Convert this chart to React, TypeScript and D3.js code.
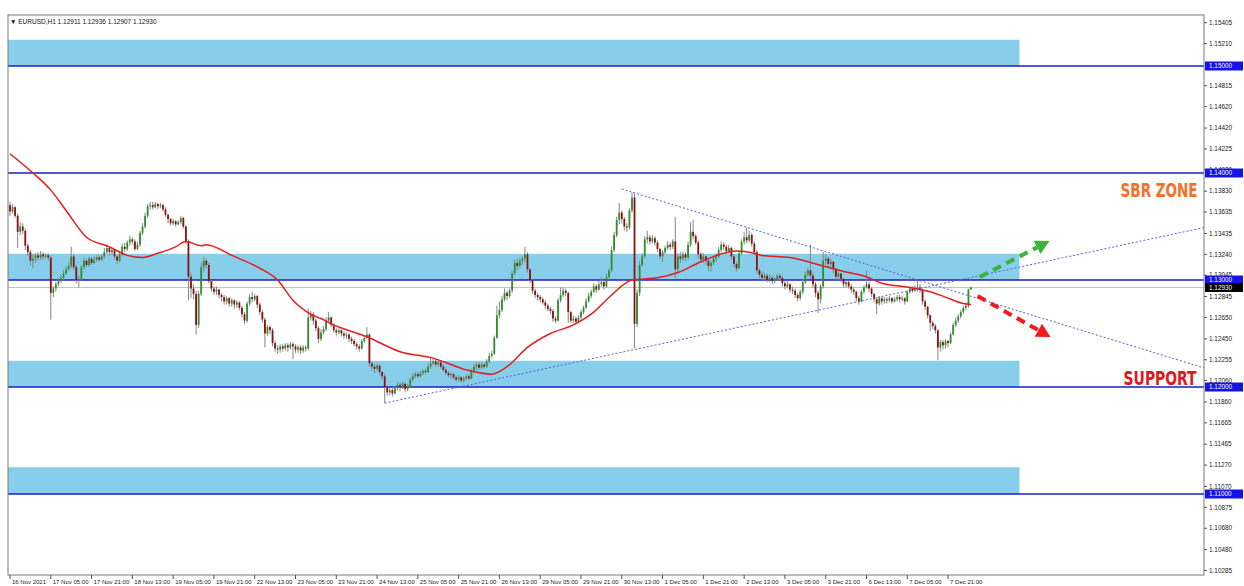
import React from "react";
import * as d3 from "d3";

// EURUSD H1, bars from 16 Nov 13:00 to 8 Dec 06:00 (open of a bar = close of previous bar)
const symbolTitle = "EURUSD,H1";
const lastQuote = [1.12911, 1.12936, 1.12907, 1.1293];
const firstOpen = 1.137;

const closes = [
  1.1364, 1.1368, 1.1360, 1.1345, 1.1350, 1.1346, 1.1332, 1.1326, 1.1318, 1.1320,
  1.1323, 1.1321, 1.1324, 1.1322, 1.1323, 1.1321, 1.1288, 1.1292, 1.1296, 1.1299,
  1.1302, 1.1306, 1.1310, 1.1313, 1.1322, 1.1312, 1.1300, 1.1301, 1.1312, 1.1318,
  1.1314, 1.1320, 1.1316, 1.1319, 1.1321, 1.1319, 1.1322, 1.1326, 1.1330, 1.1326,
  1.1328, 1.1322, 1.1318, 1.1324, 1.1331, 1.1329, 1.1335, 1.1338, 1.1336, 1.1329,
  1.1333, 1.1344, 1.1350, 1.1360, 1.1369, 1.1370, 1.1368, 1.1371, 1.1369, 1.1370,
  1.1366, 1.1361, 1.1357, 1.1353, 1.1355, 1.1352, 1.1354, 1.1358, 1.1350, 1.1336,
  1.1303, 1.1292, 1.1287, 1.1258, 1.1287, 1.1312, 1.1318, 1.1314, 1.1299, 1.1292,
  1.1289, 1.1291, 1.1286, 1.1284, 1.1280, 1.1283, 1.1278, 1.1281, 1.1277, 1.1279,
  1.1274, 1.1268, 1.1262, 1.1278, 1.1284, 1.1282, 1.1285, 1.1277, 1.1270, 1.1263,
  1.1250, 1.1256, 1.1253, 1.1241, 1.1236, 1.1235, 1.1238, 1.1236, 1.1239, 1.1237,
  1.1240, 1.1238, 1.1235, 1.1237, 1.1234, 1.1237, 1.1236, 1.1265, 1.1268, 1.1262,
  1.1255, 1.1245, 1.1251, 1.1254, 1.1262, 1.1265, 1.1258, 1.1253, 1.1251, 1.1253,
  1.1250, 1.1248, 1.1249, 1.1245, 1.1243, 1.1240, 1.1238, 1.1236, 1.1243, 1.1246,
  1.1249, 1.1222, 1.1219, 1.1217, 1.1220, 1.1214, 1.1210, 1.1200, 1.1195, 1.1197,
  1.1194, 1.1199, 1.1202, 1.1200, 1.1203, 1.1198, 1.1200, 1.1207, 1.1210, 1.1212,
  1.1210, 1.1213, 1.1215, 1.1214, 1.1219, 1.1222, 1.1224, 1.1221, 1.1223, 1.1219,
  1.1216, 1.1213, 1.1211, 1.1212, 1.1209, 1.1207, 1.1209, 1.1206, 1.1208, 1.1210,
  1.1208, 1.1215, 1.1219, 1.1221, 1.1218, 1.1221, 1.1219, 1.1224, 1.1229, 1.1231,
  1.1246, 1.1267, 1.1272, 1.1282, 1.1288, 1.1285, 1.1290, 1.1306, 1.1316, 1.1313,
  1.1318, 1.1320, 1.1324, 1.1310, 1.1300, 1.1290, 1.1286, 1.1284, 1.1282, 1.1279,
  1.1276, 1.1273, 1.1271, 1.1264, 1.1262, 1.1281, 1.1286, 1.1290, 1.1288, 1.1270,
  1.1262, 1.1264, 1.1261, 1.1265, 1.1270, 1.1274, 1.1280, 1.1285, 1.1289, 1.1294,
  1.1291, 1.1296, 1.1298, 1.1294, 1.1303, 1.1309, 1.1328, 1.1342, 1.1356, 1.1363,
  1.1357, 1.1350, 1.1349, 1.1365, 1.1377, 1.1259, 1.1288, 1.1314, 1.1322, 1.1338,
  1.1340, 1.1336, 1.1339, 1.1335, 1.1329, 1.1322, 1.1326, 1.1330, 1.1333, 1.1331,
  1.1336, 1.1310, 1.1322, 1.1320, 1.1324, 1.1321, 1.1333, 1.1345, 1.1341, 1.1335,
  1.1324, 1.1319, 1.1322, 1.1318, 1.1313, 1.1316, 1.1320, 1.1322, 1.1328, 1.1333,
  1.1331, 1.1327, 1.1330, 1.1322, 1.1315, 1.1311, 1.1325, 1.1336, 1.1340, 1.1337,
  1.1342, 1.1334, 1.1326, 1.1309, 1.1305, 1.1302, 1.1304, 1.1300, 1.1302, 1.1299,
  1.1301, 1.1304, 1.1302, 1.1297, 1.1294, 1.1296, 1.1291, 1.1290, 1.1286, 1.1283,
  1.1289, 1.1298, 1.1305, 1.1309, 1.1304, 1.1296, 1.1288, 1.1282, 1.1294, 1.1318,
  1.1320, 1.1315, 1.1317, 1.1310, 1.1303, 1.1306, 1.1301, 1.1296, 1.1298, 1.1294,
  1.1291, 1.1289, 1.1283, 1.1280, 1.1289, 1.1293, 1.1296, 1.1292, 1.1287, 1.1282,
  1.1278, 1.1283, 1.1280, 1.1282, 1.1281, 1.1283, 1.1280, 1.1282, 1.1284, 1.1282,
  1.1283, 1.1280, 1.1289, 1.1292, 1.1290, 1.1292, 1.1293, 1.1291, 1.1280, 1.1275,
  1.1267, 1.1260, 1.1257, 1.1253, 1.1237, 1.1242, 1.1239, 1.1243, 1.1241, 1.1249,
  1.1258, 1.1262, 1.1266, 1.1270, 1.1274, 1.1276, 1.12911, 1.1293,
];

const highs = [
  1.1373, 1.1371, 1.1369, 1.1362, 1.1354, 1.1353, 1.1348, 1.1334, 1.1328, 1.1324,
  1.1325, 1.1326, 1.1327, 1.1326, 1.1325, 1.1325, 1.1323, 1.1294, 1.1298, 1.1302,
  1.1305, 1.1309, 1.1313, 1.1317, 1.1331, 1.1324, 1.1314, 1.1304, 1.1314, 1.1321,
  1.1320, 1.1322, 1.1321, 1.1322, 1.1323, 1.1323, 1.1324, 1.1330, 1.1333, 1.1331,
  1.1330, 1.1329, 1.1323, 1.1326, 1.1334, 1.1335, 1.1337, 1.1341, 1.1340, 1.1338,
  1.1336, 1.1346, 1.1353, 1.1363, 1.1371, 1.1373, 1.1373, 1.1373, 1.1372, 1.1372,
  1.1371, 1.1368, 1.1362, 1.1358, 1.1357, 1.1356, 1.1356, 1.1360, 1.1359, 1.1351,
  1.1338, 1.1306, 1.1296, 1.1290, 1.1290, 1.1316, 1.1322, 1.1320, 1.1316, 1.1300,
  1.1294, 1.1294, 1.1292, 1.1288, 1.1286, 1.1285, 1.1284, 1.1283, 1.1282, 1.1281,
  1.1280, 1.1276, 1.1270, 1.1280, 1.1287, 1.1289, 1.1287, 1.1286, 1.1279, 1.1272,
  1.1265, 1.1258, 1.1258, 1.1255, 1.1243, 1.1239, 1.1240, 1.1240, 1.1241, 1.1241,
  1.1242, 1.1242, 1.1240, 1.1239, 1.1239, 1.1239, 1.1239, 1.1273, 1.1271, 1.1270,
  1.1264, 1.1257, 1.1254, 1.1257, 1.1265, 1.1270, 1.1266, 1.1259, 1.1255, 1.1255,
  1.1254, 1.1252, 1.1251, 1.1250, 1.1247, 1.1245, 1.1242, 1.1240, 1.1245, 1.1248,
  1.1256, 1.1250, 1.1224, 1.1222, 1.1222, 1.1221, 1.1215, 1.1212, 1.1201, 1.1199,
  1.1199, 1.1201, 1.1205, 1.1204, 1.1205, 1.1204, 1.1203, 1.1209, 1.1213, 1.1214,
  1.1214, 1.1215, 1.1217, 1.1217, 1.1222, 1.1228, 1.1226, 1.1226, 1.1225, 1.1224,
  1.1221, 1.1218, 1.1215, 1.1214, 1.1213, 1.1211, 1.1211, 1.1210, 1.1210, 1.1212,
  1.1212, 1.1217, 1.1222, 1.1223, 1.1223, 1.1223, 1.1222, 1.1226, 1.1232, 1.1234,
  1.1248, 1.1276, 1.1280, 1.1285, 1.1292, 1.1290, 1.1292, 1.1309, 1.1319, 1.1320,
  1.1321, 1.1322, 1.1331, 1.1326, 1.1311, 1.1301, 1.1292, 1.1288, 1.1286, 1.1284,
  1.1281, 1.1278, 1.1275, 1.1273, 1.1266, 1.1283, 1.1293, 1.1293, 1.1292, 1.1289,
  1.1271, 1.1267, 1.1266, 1.1267, 1.1272, 1.1276, 1.1283, 1.1288, 1.1291, 1.1297,
  1.1296, 1.1299, 1.1303, 1.1300, 1.1306, 1.1311, 1.1331, 1.1345, 1.1359, 1.1372,
  1.1365, 1.1359, 1.1353, 1.1367, 1.1382, 1.1381, 1.1291, 1.1318, 1.1325, 1.1341,
  1.1346, 1.1342, 1.1342, 1.1341, 1.1337, 1.1330, 1.1328, 1.1332, 1.1336, 1.1335,
  1.1338, 1.1359, 1.1325, 1.1326, 1.1327, 1.1326, 1.1336, 1.1354, 1.1356, 1.1343,
  1.1337, 1.1326, 1.1325, 1.1323, 1.1320, 1.1318, 1.1322, 1.1325, 1.1331, 1.1336,
  1.1335, 1.1333, 1.1333, 1.1331, 1.1324, 1.1317, 1.1327, 1.1338, 1.1345, 1.1349,
  1.1346, 1.1344, 1.1336, 1.1328, 1.1311, 1.1308, 1.1307, 1.1306, 1.1305, 1.1304,
  1.1303, 1.1306, 1.1306, 1.1304, 1.1299, 1.1299, 1.1297, 1.1294, 1.1292, 1.1288,
  1.1291, 1.1301, 1.1308, 1.1312, 1.1333, 1.1307, 1.1298, 1.1290, 1.1296, 1.1326,
  1.1324, 1.1322, 1.1320, 1.1318, 1.1311, 1.1308, 1.1307, 1.1302, 1.1300, 1.1299,
  1.1296, 1.1293, 1.1290, 1.1285, 1.1291, 1.1295, 1.1309, 1.1298, 1.1293, 1.1288,
  1.1284, 1.1285, 1.1284, 1.1284, 1.1284, 1.1285, 1.1284, 1.1284, 1.1286, 1.1286,
  1.1285, 1.1284, 1.1290, 1.1294, 1.1294, 1.1295, 1.1301, 1.1296, 1.1292, 1.1282,
  1.1276, 1.1268, 1.1262, 1.1259, 1.1254, 1.1244, 1.1244, 1.1245, 1.1244, 1.1251,
  1.1260, 1.1265, 1.1268, 1.1272, 1.1276, 1.1279, 1.1292, 1.12936,
];

const lows = [
  1.1360, 1.1362, 1.1358, 1.1330, 1.1342, 1.1343, 1.1328, 1.1322, 1.1314, 1.1311,
  1.1316, 1.1318, 1.1319, 1.1319, 1.1320, 1.1318, 1.1263, 1.1284, 1.1289, 1.1294,
  1.1297, 1.1300, 1.1305, 1.1308, 1.1311, 1.1309, 1.1297, 1.1293, 1.1299, 1.1310,
  1.1312, 1.1312, 1.1314, 1.1315, 1.1317, 1.1317, 1.1318, 1.1320, 1.1324, 1.1323,
  1.1323, 1.1319, 1.1315, 1.1316, 1.1322, 1.1326, 1.1327, 1.1332, 1.1333, 1.1327,
  1.1328, 1.1331, 1.1342, 1.1348, 1.1358, 1.1366, 1.1366, 1.1367, 1.1366, 1.1367,
  1.1364, 1.1359, 1.1353, 1.1351, 1.1351, 1.1350, 1.1351, 1.1352, 1.1348, 1.1334,
  1.1281, 1.1283, 1.1282, 1.1249, 1.1255, 1.1285, 1.1308, 1.1311, 1.1297, 1.1289,
  1.1286, 1.1286, 1.1283, 1.1280, 1.1277, 1.1277, 1.1275, 1.1275, 1.1273, 1.1274,
  1.1272, 1.1265, 1.1259, 1.1260, 1.1276, 1.1279, 1.1280, 1.1274, 1.1267, 1.1260,
  1.1237, 1.1248, 1.1249, 1.1238, 1.1233, 1.1231, 1.1232, 1.1233, 1.1234, 1.1233,
  1.1235, 1.1226, 1.1232, 1.1232, 1.1231, 1.1232, 1.1233, 1.1234, 1.1262, 1.1258,
  1.1252, 1.1241, 1.1243, 1.1249, 1.1252, 1.1260, 1.1256, 1.1251, 1.1248, 1.1249,
  1.1247, 1.1245, 1.1245, 1.1242, 1.1240, 1.1238, 1.1235, 1.1233, 1.1235, 1.1241,
  1.1245, 1.1219, 1.1215, 1.1213, 1.1215, 1.1211, 1.1207, 1.1185, 1.1192, 1.1192,
  1.1191, 1.1193, 1.1197, 1.1196, 1.1198, 1.1195, 1.1196, 1.1199, 1.1205, 1.1208,
  1.1208, 1.1209, 1.1211, 1.1212, 1.1213, 1.1217, 1.1220, 1.1219, 1.1219, 1.1217,
  1.1214, 1.1211, 1.1209, 1.1208, 1.1207, 1.1205, 1.1205, 1.1204, 1.1204, 1.1206,
  1.1206, 1.1207, 1.1213, 1.1216, 1.1216, 1.1217, 1.1217, 1.1218, 1.1222, 1.1227,
  1.1230, 1.1245, 1.1264, 1.1270, 1.1280, 1.1281, 1.1283, 1.1288, 1.1304, 1.1309,
  1.1311, 1.1314, 1.1317, 1.1307, 1.1297, 1.1287, 1.1283, 1.1281, 1.1279, 1.1277,
  1.1273, 1.1271, 1.1268, 1.1261, 1.1260, 1.1261, 1.1279, 1.1284, 1.1285, 1.1260,
  1.1260, 1.1260, 1.1259, 1.1260, 1.1263, 1.1268, 1.1273, 1.1279, 1.1283, 1.1288,
  1.1288, 1.1290, 1.1294, 1.1291, 1.1293, 1.1300, 1.1307, 1.1326, 1.1340, 1.1352,
  1.1353, 1.1346, 1.1345, 1.1347, 1.1363, 1.1236, 1.1256, 1.1285, 1.1312, 1.1320,
  1.1334, 1.1333, 1.1334, 1.1332, 1.1326, 1.1319, 1.1317, 1.1324, 1.1328, 1.1328,
  1.1329, 1.1302, 1.1306, 1.1316, 1.1318, 1.1318, 1.1319, 1.1331, 1.1338, 1.1333,
  1.1320, 1.1316, 1.1316, 1.1314, 1.1308, 1.1308, 1.1314, 1.1317, 1.1320, 1.1326,
  1.1328, 1.1324, 1.1325, 1.1319, 1.1312, 1.1308, 1.1310, 1.1323, 1.1333, 1.1334,
  1.1335, 1.1331, 1.1323, 1.1306, 1.1302, 1.1299, 1.1300, 1.1298, 1.1298, 1.1296,
  1.1297, 1.1299, 1.1299, 1.1294, 1.1291, 1.1292, 1.1288, 1.1287, 1.1283, 1.1280,
  1.1281, 1.1287, 1.1296, 1.1303, 1.1301, 1.1293, 1.1284, 1.1269, 1.1278, 1.1292,
  1.1314, 1.1312, 1.1312, 1.1306, 1.1300, 1.1300, 1.1298, 1.1293, 1.1293, 1.1292,
  1.1288, 1.1286, 1.1280, 1.1277, 1.1279, 1.1287, 1.1292, 1.1289, 1.1284, 1.1279,
  1.1268, 1.1276, 1.1277, 1.1278, 1.1278, 1.1279, 1.1278, 1.1279, 1.1280, 1.1279,
  1.1280, 1.1277, 1.1279, 1.1287, 1.1288, 1.1289, 1.1289, 1.1288, 1.1277, 1.1272,
  1.1264, 1.1252, 1.1254, 1.1250, 1.1225, 1.1233, 1.1235, 1.1236, 1.1237, 1.1240,
  1.1248, 1.1256, 1.1260, 1.1264, 1.1268, 1.1272, 1.1274, 1.12907,
];

// moving average (red line), read at these bar numbers
const maBars = [
  0, 9, 16, 22, 30, 39, 46, 52, 58, 65, 69, 75, 77, 87, 98, 105, 111, 118, 122, 127,
  140, 153, 166, 179, 189, 195, 203, 212, 221, 229, 236, 244, 254, 262, 271, 280, 285,
  290, 295, 306, 319, 327, 336, 342, 353, 361, 367, 374, 377,
];
const maValues = [
  1.1418, 1.14, 1.1384, 1.1365, 1.134, 1.1331, 1.1323, 1.1321, 1.1325, 1.1331, 1.1336,
  1.1332, 1.1333, 1.1323, 1.1311, 1.13, 1.1281, 1.1268, 1.1264, 1.1258, 1.1247, 1.1233,
  1.1227, 1.1216, 1.1212, 1.1219, 1.1237, 1.125, 1.1258, 1.127, 1.1286, 1.13, 1.1302,
  1.1307, 1.1317, 1.1325, 1.1327, 1.1326, 1.1323, 1.1321, 1.1313, 1.1308, 1.1303,
  1.1297, 1.1293, 1.1289, 1.1284, 1.1278, 1.1277,
];

const levels = [1.15, 1.14, 1.13, 1.12, 1.11];
const zoneBottoms = [1.15, 1.13, 1.12, 1.11];
const zoneTops = [1.15245, 1.13245, 1.12245, 1.1125];
const zoneEndBar = 396;
const bidPrice = 1.1293;

const priceTicks = [
  1.15405, 1.1521, 1.14815, 1.1462, 1.1442, 1.14225, 1.1403, 1.1383, 1.13635,
  1.13435, 1.1324, 1.13045, 1.12845, 1.1265, 1.1245, 1.12255, 1.1206, 1.1186, 1.11665,
  1.11465, 1.1127, 1.1107, 1.10875, 1.1068, 1.1048, 1.10285,
];

const timeLabels = [
  "16 Nov 2021", "17 Nov 05:00", "17 Nov 21:00", "18 Nov 13:00", "19 Nov 05:00",
  "19 Nov 21:00", "22 Nov 13:00", "23 Nov 05:00", "23 Nov 21:00", "24 Nov 13:00",
  "25 Nov 05:00", "25 Nov 21:00", "26 Nov 13:00", "29 Nov 05:00", "29 Nov 21:00",
  "30 Nov 13:00", "1 Dec 05:00", "1 Dec 21:00", "2 Dec 13:00", "3 Dec 05:00",
  "3 Dec 21:00", "6 Dec 13:00", "7 Dec 05:00", "7 Dec 21:00",
];
const barsPerLabel = 16;

// trend lines: [bar, price] anchors, drawn as rays to the right
const trendUpper = [[240, 1.13851], [357, 1.12994]];
const trendLower = [[147, 1.1185], [244, 1.12345]];

// projection arrows: [bar, price] start and tip
const arrowUp = [[380.4, 1.13028], [407.8, 1.13365]];
const arrowDown = [[379.6, 1.1285], [408.2, 1.12467]];

const sbrLabel = { text: "SBR ZONE", bar: 465.9, price: 1.13776 };
const supportLabel = { text: "SUPPORT", bar: 465.5, price: 1.12018 };

const FONT = "'Liberation Sans', Arial, sans-serif";
const BIG_FONT = "'DejaVu Sans Condensed', 'DejaVu Sans', sans-serif";

export default function App() {
  const left = 8, top = 15, right = 1204, bottom = 575;
  const x = d3.scaleLinear().domain([0, closes.length - 1]).range([10, 971]);
  const y = d3.scaleLinear().domain([1.11, 1.15]).range([494, 66]);

  const opens = closes.map((c, i) => (i === 0 ? firstOpen : closes[i - 1]));

  const maPath = d3
    .line<number>()
    .x((d, i) => x(maBars[i]))
    .y((d) => y(d))
    .curve(d3.curveMonotoneX)(maValues);

  const barRight = x.invert(right);
  const ray = (t: number[][]) => {
    const slope = (t[1][1] - t[0][1]) / (t[1][0] - t[0][0]);
    const pEnd = t[0][1] + slope * (barRight - t[0][0]);
    return { x1: x(t[0][0]), y1: y(t[0][1]), x2: right, y2: y(pEnd) };
  };

  const arrow = (a: number[][], color: string) => {
    const x0 = x(a[0][0]), y0 = y(a[0][1]);
    const x1 = x(a[1][0]), y1 = y(a[1][1]);
    const len = Math.hypot(x1 - x0, y1 - y0);
    const ux = (x1 - x0) / len, uy = (y1 - y0) / len;
    const head = 14, half = 7.5;
    const bx = x1 - ux * head, by = y1 - uy * head;
    const pts = [
      [x1, y1],
      [bx - uy * half, by + ux * half],
      [bx + uy * half, by - ux * half],
    ];
    return (
      <g>
        <line x1={x0} y1={y0} x2={bx} y2={by} stroke={color} strokeWidth={4} strokeDasharray="9 6" />
        <polygon points={pts.map((p) => p.join(",")).join(" ")} fill={color} />
      </g>
    );
  };

  const up = ray(trendUpper);
  const lo = ray(trendLower);

  const title = `${symbolTitle}  ${lastQuote.map((v) => v.toFixed(5)).join(" ")}`;

  const bigLabel = (lab: { text: string; bar: number; price: number }, color: string, w: number) => (
    <g transform={`translate(${x(lab.bar)},${y(lab.price)}) scale(1,1.25)`}>
      <text
        x={0}
        y={0}
        textAnchor="end"
        fontFamily={BIG_FONT}
        fontWeight="bold"
        fontSize={16}
        fill={color}
        textLength={w}
        lengthAdjust="spacingAndGlyphs"
      >
        {lab.text}
      </text>
    </g>
  );

  return (
    <svg
      width={1244}
      height={586}
      style={{ position: "absolute", left: 0, top: 0, background: "#fff" }}
      fontFamily={FONT}
    >
      <defs>
        <clipPath id="plot">
          <rect x={left} y={top} width={right - left} height={bottom - top} />
        </clipPath>
      </defs>

      <g clipPath="url(#plot)">
        {zoneBottoms.map((b, i) => (
          <rect
            key={"z" + i}
            x={left}
            y={y(zoneTops[i])}
            width={x(zoneEndBar) - left}
            height={y(b) - y(zoneTops[i])}
            fill="#87ceeb"
          />
        ))}
        <line x1={left} x2={right} y1={y(bidPrice)} y2={y(bidPrice)} stroke="#c4c4c4" strokeWidth={1} />
        {levels.map((l) => (
          <line key={"l" + l} x1={left} x2={right} y1={y(l)} y2={y(l)} stroke="#1c1cc4" strokeWidth={1.6} />
        ))}

        {closes.map((c, i) => {
          const o = opens[i];
          const hi = Math.max(highs[i], o, c);
          const lw = Math.min(lows[i], o, c);
          const bull = c >= o;
          const cx = x(i);
          const yt = y(Math.max(o, c));
          const h = Math.max(1, y(Math.min(o, c)) - yt);
          return (
            <g key={"c" + i}>
              <line x1={cx} x2={cx} y1={y(hi)} y2={y(lw)} stroke="#858585" strokeWidth={1} />
              <rect x={cx - 0.9} y={yt} width={1.8} height={h} fill={bull ? "#2f8f2f" : "#8b1212"} />
            </g>
          );
        })}

        <path d={maPath || ""} fill="none" stroke="#e41e1e" strokeWidth={1.5} />

        <line {...up} stroke="#5c5ce0" strokeWidth={1} strokeDasharray="2 2" />
        <line {...lo} stroke="#5c5ce0" strokeWidth={1} strokeDasharray="2 2" />

        {arrow(arrowUp, "#3cb43c")}
        {arrow(arrowDown, "#ee1c1c")}

        {bigLabel(sbrLabel, "#f36f2c", 77)}
        {bigLabel(supportLabel, "#e3161c", 73)}
      </g>

      {/* frame */}
      <rect x={left} y={top} width={right - left} height={bottom - top} fill="none" stroke="#7a7a7a" strokeWidth={1} />

      {/* title */}
      <text x={10} y={23.5} fontSize={6.5} fill="#111">
        {"\u25BC "}
        {title}
      </text>

      {/* price axis */}
      {priceTicks.map((t) => (
        <g key={"t" + t}>
          <line x1={right} x2={right + 3} y1={y(t)} y2={y(t)} stroke="#555" />
          <text x={right + 5} y={y(t)} dy="0.35em" fontSize={6.4} fill="#222">
            {t.toFixed(5)}
          </text>
        </g>
      ))}
      {levels.map((l) => (
        <g key={"b" + l}>
          <rect x={right + 1} y={y(l) - 4.5} width={38} height={9} fill="#1414e6" />
          <text x={right + 5} y={y(l)} dy="0.35em" fontSize={6.4} fill="#fff">
            {l.toFixed(5)}
          </text>
        </g>
      ))}
      <rect x={right + 1} y={y(bidPrice) - 4.5} width={38} height={9} fill="#000" />
      <text x={right + 5} y={y(bidPrice)} dy="0.35em" fontSize={6.4} fill="#fff">
        {bidPrice.toFixed(5)}
      </text>

      {/* time axis */}
      {timeLabels.map((lab, k) => {
        const tx = x(k * barsPerLabel);
        return (
          <g key={"tl" + k}>
            <line x1={tx} x2={tx} y1={bottom} y2={bottom + 4} stroke="#555" />
            <text x={tx + 2} y={bottom + 9} fontSize={6} fill="#222">
              {lab}
            </text>
          </g>
        );
      })}
    </svg>
  );
}
